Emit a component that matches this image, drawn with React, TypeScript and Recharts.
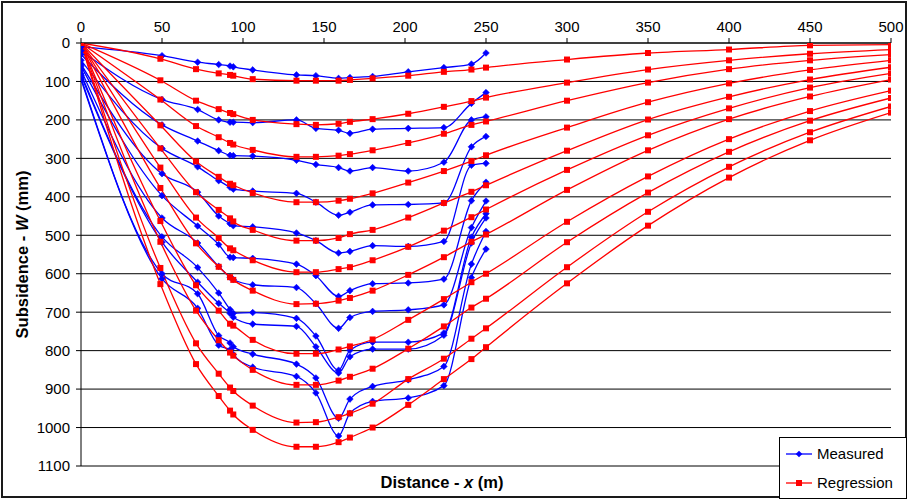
import React from 'react';
import {LineChart, Line, XAxis, YAxis, CartesianGrid} from 'recharts';

// distances (m) where the measured points sit
const measuredX = [0, 50, 72, 85, 92, 94, 106, 133, 145, 159, 166, 180, 202, 224, 241, 250];

// measured subsidence (mm), one list per survey
const measured1 = [10, 33, 50, 56, 60, 62, 70, 83, 85, 92, 90, 87, 75, 64, 55, 26];
const measured2 = [20, 147, 173, 200, 206, 206, 207, 200, 222, 227, 235, 224, 222, 220, 157, 129];
const measured3 = [30, 213, 255, 280, 292, 293, 294, 305, 316, 324, 333, 324, 333, 310, 200, 192];
const measured4 = [45, 274, 322, 358, 375, 380, 385, 391, 414, 448, 440, 421, 420, 416, 270, 243];
const measured5 = [55, 340, 388, 450, 470, 475, 478, 494, 514, 546, 542, 527, 529, 516, 318, 313];
const measured6 = [60, 397, 476, 524, 557, 558, 560, 575, 605, 659, 644, 626, 624, 614, 410, 362];
const measured7 = [70, 455, 520, 581, 609, 615, 629, 636, 678, 742, 714, 698, 694, 681, 480, 411];
const measured8 = [80, 504, 584, 650, 693, 703, 701, 716, 762, 851, 799, 778, 778, 754, 505, 444];
const measured9 = [85, 518, 622, 677, 703, 713, 731, 737, 790, 858, 816, 796, 796, 760, 520, 455];
const measured10 = [90, 600, 652, 761, 780, 790, 809, 835, 871, 976, 926, 893, 876, 841, 575, 490];
const measured11 = [95, 613, 690, 786, 798, 810, 843, 867, 910, 1022, 963, 932, 923, 891, 610, 536];

// distances (m) of the regression points
const regressionX = [0, 49, 71, 85, 92, 94, 106, 133, 145, 159, 166, 180, 202, 224, 241, 250, 300, 350, 400, 450, 500];

const regression1 = [0, 41, 68, 79, 83, 85, 94, 98, 98, 98, 96, 92, 85, 75, 69, 64, 43, 26, 17, 6, 4];
const regression2 = [0, 97, 150, 172, 182, 185, 200, 211, 213, 210, 205, 198, 184, 166, 151, 142, 103, 69, 45, 28, 17];
const regression3 = [0, 147, 216, 245, 260, 264, 278, 296, 296, 293, 289, 279, 260, 236, 213, 204, 150, 103, 68, 45, 30];
const regression4 = [0, 214, 308, 348, 366, 370, 390, 414, 414, 410, 405, 391, 363, 333, 307, 292, 220, 154, 105, 70, 45];
const regression5 = [0, 274, 388, 434, 456, 464, 486, 514, 514, 507, 497, 486, 454, 416, 387, 370, 280, 199, 140, 95, 63];
const regression6 = [0, 324, 454, 507, 534, 539, 565, 596, 596, 588, 583, 565, 530, 488, 453, 433, 330, 240, 170, 116, 79];
const regression7 = [0, 377, 521, 582, 609, 616, 644, 679, 678, 670, 663, 644, 603, 557, 517, 498, 382, 279, 198, 139, 95];
const regression8 = [0, 463, 630, 696, 730, 735, 772, 808, 808, 797, 789, 771, 720, 666, 622, 600, 465, 347, 250, 177, 124];
const regression9 = [0, 517, 696, 773, 805, 813, 850, 889, 889, 878, 868, 847, 795, 737, 688, 665, 518, 389, 283, 202, 143];
const regression10 = [0, 585, 781, 860, 896, 905, 943, 987, 986, 973, 963, 938, 874, 821, 769, 742, 583, 439, 322, 232, 165];
const regression11 = [0, 627, 835, 918, 956, 966, 1006, 1050, 1050, 1038, 1026, 1000, 941, 874, 822, 791, 625, 475, 350, 253, 181];

const xTicks = [0, 50, 100, 150, 200, 250, 300, 350, 400, 450, 500];
const yTicks = [0, 100, 200, 300, 400, 500, 600, 700, 800, 900, 1000, 1100];

const measuredSets = [measured1, measured2, measured3, measured4, measured5, measured6,
  measured7, measured8, measured9, measured10, measured11];
const regressionSets = [regression1, regression2, regression3, regression4, regression5, regression6,
  regression7, regression8, regression9, regression10, regression11];

const BLUE = '#0000FF';
const RED = '#FF0000';
const FONT = '"Liberation Sans", Arial, sans-serif';

const toPoints = (xs: number[], ws: number[]) => xs.map((x, i) => ({x, w: ws[i]}));

const Diamond = (props: any) => {
  const {cx, cy, index} = props;
  if (cx == null || cy == null) return <g key={index}/>;
  const r = 3.3;
  return <path key={index} d={`M${cx},${cy - r}L${cx + r},${cy}L${cx},${cy + r}L${cx - r},${cy}Z`} fill={BLUE} stroke={BLUE} strokeWidth={0.6}/>;
};

const Square = (props: any) => {
  const {cx, cy, index} = props;
  if (cx == null || cy == null) return <g key={index}/>;
  return <rect key={index} x={cx - 3} y={cy - 3} width={6} height={6} fill={RED}/>;
};

function LegendBox() {
  return (
    <div style={{position: 'absolute', left: 779, top: 437, width: 128, height: 62, boxSizing: 'border-box',
      border: '1px solid #000', background: '#fff', fontFamily: FONT, fontSize: 15}}>
      <svg width={126} height={60} style={{position: 'absolute', left: 0, top: 0}}>
        <line x1={6} x2={32} y1={16} y2={16} stroke={BLUE} strokeWidth={1.3}/>
        <path d="M19,12.7L22.3,16L19,19.3L15.7,16Z" fill={BLUE}/>
        <line x1={6} x2={32} y1={45} y2={45} stroke={RED} strokeWidth={1.3}/>
        <rect x={16} y={42} width={6} height={6} fill={RED}/>
        <text x={37} y={21} fontSize={15} fontFamily={FONT} fill="#000">Measured</text>
        <text x={37} y={50} fontSize={15} fontFamily={FONT} fill="#000">Regression</text>
      </svg>
    </div>
  );
}

export default function App() {
  return (
    <div style={{position: 'absolute', left: 0, top: 0, width: 909, height: 500, background: '#fff', fontFamily: FONT}}>
      <div style={{position: 'absolute', left: 1, top: 1, width: 906, height: 497, boxSizing: 'border-box', border: '2px solid #1a1a1a'}}/>
      <LineChart width={909} height={500} margin={{top: 13, right: 18, bottom: 34, left: 21}}>
        <CartesianGrid vertical={false} stroke="#000" strokeWidth={1}/>
        <XAxis type="number" dataKey="x" orientation="top" domain={[0, 500]} ticks={xTicks} interval={0}
               height={30} tickSize={5} tickMargin={6} stroke="#000"
               tick={{fill: '#000', fontSize: 15, fontFamily: FONT}} allowDataOverflow/>
        <YAxis type="number" dataKey="w" reversed domain={[0, 1100]} ticks={yTicks} interval={0}
               width={60} tickSize={5} tickMargin={6} stroke="#000"
               tick={{fill: '#000', fontSize: 15, fontFamily: FONT}} allowDataOverflow/>
        {measuredSets.map((ws, i) => (
          <Line key={'m' + i} data={toPoints(measuredX, ws)} dataKey="w" type="monotone" stroke={BLUE}
                strokeWidth={1.3} dot={Diamond} activeDot={false} isAnimationActive={false}/>
        ))}
        {regressionSets.map((ws, i) => (
          <Line key={'r' + i} data={toPoints(regressionX, ws)} dataKey="w" type="monotone" stroke={RED}
                strokeWidth={1.3} dot={Square} activeDot={false} isAnimationActive={false}/>
        ))}
      </LineChart>
      <div style={{position: 'absolute', left: 242, top: 473, width: 400, textAlign: 'center',
        fontWeight: 'bold', fontSize: 16.5}}>
        Distance - <i>x</i> (m)
      </div>
      <div style={{position: 'absolute', left: 22, top: 255, width: 0, height: 0}}>
        <div style={{position: 'absolute', left: -150, top: -10, width: 300, textAlign: 'center',
          fontWeight: 'bold', fontSize: 16.5, transform: 'rotate(-90deg)', whiteSpace: 'nowrap'}}>
          Subsidence - <i>W</i> (mm)
        </div>
      </div>
      <LegendBox/>
    </div>
  );
}
